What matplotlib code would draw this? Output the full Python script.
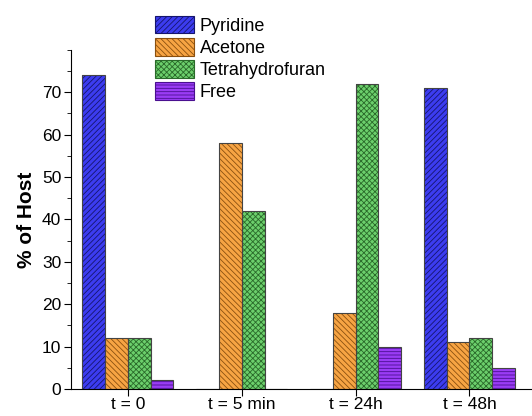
import matplotlib
matplotlib.use('Agg')
import matplotlib.pyplot as plt
import numpy as np
from matplotlib.patches import Patch
from matplotlib.ticker import MultipleLocator

# Données
times = ['t = 0', 't = 5 min', 't = 24h', 't = 48h']
solvants = ['Pyridine', 'Acetone', 'Tetrahydrofuran', 'Free']
pyridine = [74, 0, 0, 71]
acetone = [12, 58, 18, 11]
thf = [12, 42, 72, 12]
free = [2, 0, 10, 5]

# Styles (couleur de fond, couleur des hachures, motif)
couleurs = ['#3c3cf0', '#f7a443', '#6ccf6c', '#9a3cf5']
hachures_col = ['#15156e', '#8a5010', '#2a6a2a', '#4a1090']
motifs = ['//////', '\\\\\\\\\\\\', 'xxxxxx', '-----']

plt.rcParams['font.family'] = ['Liberation Sans', 'DejaVu Sans']
plt.rcParams['hatch.linewidth'] = 0.6

fig = plt.figure(figsize=(5.32, 4.16), dpi=100)
ax = fig.add_axes([0.1335, 0.065, 0.8665, 0.815])

x = np.arange(len(times))
largeur = 0.2
series = [pyridine, acetone, thf, free]
handles = []
for i, valeurs in enumerate(series):
    pos = x + (i - 1.5) * largeur
    ax.bar(pos, valeurs, largeur, color=couleurs[i], edgecolor=hachures_col[i],
           hatch=motifs[i], linewidth=0)
    ax.bar(pos, valeurs, largeur, fill=False, edgecolor='#444444', linewidth=0.8)
    handles.append(Patch(facecolor=couleurs[i], edgecolor=hachures_col[i],
                         hatch=motifs[i], linewidth=0.8))

ax.set_xlim(-0.5, 3.55)
ax.set_ylim(0, 80)
ax.set_xticks(x)
ax.set_xticklabels(times, fontsize=12.5)
ax.yaxis.set_major_locator(MultipleLocator(10))
ax.yaxis.set_minor_locator(MultipleLocator(5))
ax.set_yticks([0, 10, 20, 30, 40, 50, 60, 70])
ax.tick_params(axis='y', labelsize=12.5, direction='out', length=5, pad=2)
ax.tick_params(axis='y', which='minor', length=3)
ax.tick_params(axis='x', direction='out', length=5, pad=1)
ax.set_ylabel('% of Host', fontsize=15, fontweight='bold', labelpad=4)

for cote in ['top', 'right']:
    ax.spines[cote].set_visible(False)

fig.legend(handles, solvants, loc='upper left', bbox_to_anchor=(0.267, 0.993),
           frameon=False, fontsize=13, handlelength=2.2, handleheight=1.15,
           labelspacing=0.17, handletextpad=0.3, borderpad=0.2)

plt.savefig('out.png', dpi=100)
plt.close()
